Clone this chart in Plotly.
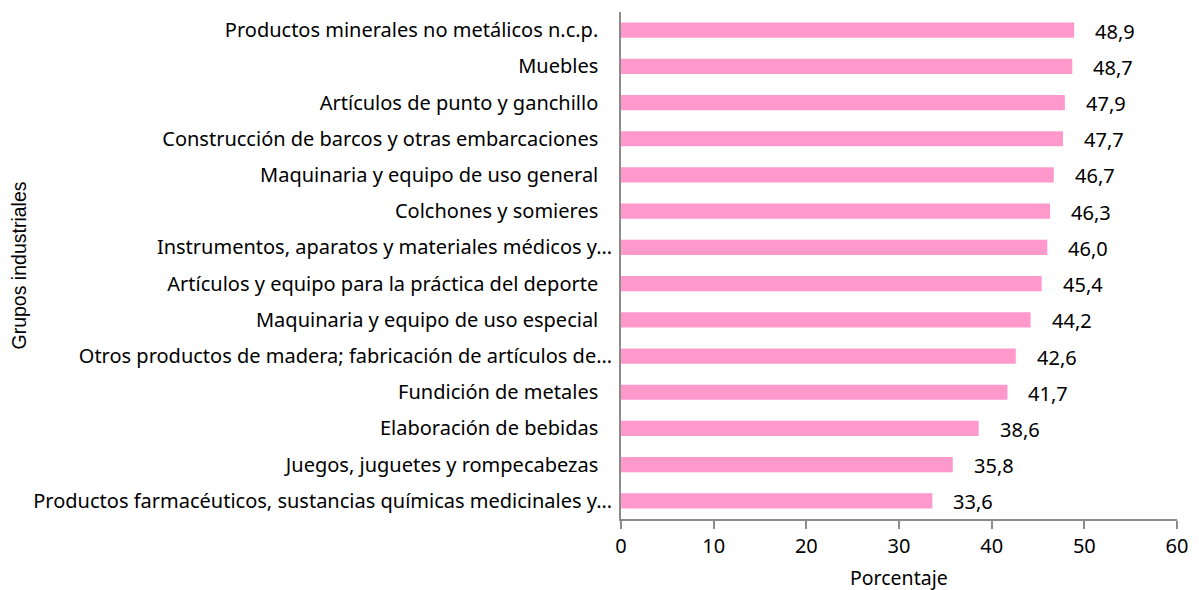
import plotly.graph_objects as go

categories = [
    "Productos minerales no metálicos n.c.p.",
    "Muebles",
    "Artículos de punto y ganchillo",
    "Construcción de barcos y otras embarcaciones",
    "Maquinaria y equipo de uso general",
    "Colchones y somieres",
    "Instrumentos, aparatos y materiales médicos y…",
    "Artículos y equipo para la práctica del deporte",
    "Maquinaria y equipo de uso especial",
    "Otros productos de madera; fabricación de artículos de…",
    "Fundición de metales",
    "Elaboración de bebidas",
    "Juegos, juguetes y rompecabezas",
    "Productos farmacéuticos, sustancias químicas medicinales y…",
]
values = [48.9, 48.7, 47.9, 47.7, 46.7, 46.3, 46.0, 45.4, 44.2, 42.6, 41.7, 38.6, 35.8, 33.6]
x_ticks = [0, 10, 20, 30, 40, 50, 60]

labels = [f"{v:.1f}".replace(".", ",") for v in values]
# full (non-truncated) names in the source carry trailing blanks
tick_text = [c if c.endswith("…") else c + "\u00a0\u00a0\u2009" for c in categories]

fig = go.Figure()
fig.add_trace(go.Bar(
    x=values, y=categories, orientation="h",
    marker=dict(color="#FF99CC", line=dict(width=0)),
    hoverinfo="x+y",
))
for c, v, t in zip(categories, values, labels):
    fig.add_annotation(x=v, y=c, text=t, showarrow=False, xanchor="left",
                       xshift=19, yshift=-1,
                       font=dict(family="Noto Sans", size=20, color="#000"))

fig.add_annotation(xref="paper", yref="paper", x=0, y=0.5, xshift=-603,
                   xanchor="center", yanchor="middle",
                   text="Grupos industriales", textangle=-90, showarrow=False,
                   font=dict(family="Liberation Sans, Arial", size=19.5, color="#000"))

fig.add_annotation(xref="paper", yref="paper", x=0.5, y=0, yshift=-58,
                   xanchor="center", yanchor="middle",
                   text="Porcentaje", showarrow=False,
                   font=dict(family="Noto Sans", size=19.5, color="#000"))

fig.update_layout(
    width=1183, height=582,
    margin=dict(l=613, r=14, t=4, b=71, autoexpand=False),
    plot_bgcolor="white", paper_bgcolor="white",
    bargap=0.58,
    showlegend=False,
    font=dict(family="Noto Sans", size=20, color="#000"),
    xaxis=dict(
        range=[0, 60], tickvals=x_ticks, showgrid=False, zeroline=False,
        showline=True, linecolor="#8c8c8c", linewidth=2,
        ticks="outside", ticklen=8, tickcolor="#8c8c8c", tickwidth=2,
        tickfont=dict(size=20), ticklabeloverflow="allow", automargin=False,
    ),
    yaxis=dict(
        categoryorder="array", categoryarray=categories[::-1],
        tickmode="array", tickvals=categories, ticktext=tick_text,
        showgrid=False, zeroline=False,
        showline=True, linecolor="#8c8c8c", linewidth=2,
        ticks="", ticklabelstandoff=3, automargin=False,
        tickfont=dict(size=20),
    ),
)

fig.write_html("out.html")
